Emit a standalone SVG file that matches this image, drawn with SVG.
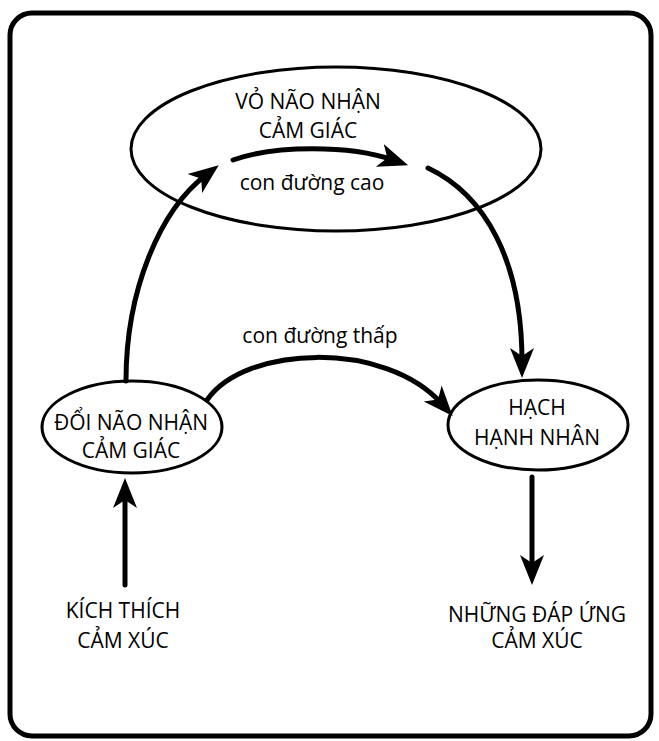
<svg xmlns="http://www.w3.org/2000/svg" width="659" height="741" viewBox="0 0 659 741">
<style>
.node ellipse{fill:none;stroke:#000;stroke-width:3}
text{font-family:"Open Sans","Noto Sans","DejaVu Sans",sans-serif;font-size:21px;fill:#000;text-anchor:middle}
.conn path{fill:none;stroke:#000;stroke-width:5;stroke-linecap:round;marker-end:url(#head)}
</style>
<defs>
<marker id="head" markerUnits="userSpaceOnUse" markerWidth="32" markerHeight="28" viewBox="0 -14 32 28" refX="14" refY="0" orient="auto">
<path d="M0,-12 L30,0 L0,12 L8,0 Z" fill="#000"/>
</marker>
</defs>
<rect x="10" y="13" width="641" height="723" rx="22" ry="22" fill="#fff" stroke="#000" stroke-width="5"/>
<g id="vo-nao" class="node">
<ellipse cx="336" cy="149" rx="205" ry="82"/>
<text x="308" y="109">VỎ NÃO NHẬN</text>
<text x="308" y="138">CẢM GIÁC</text>
</g>
<g id="doi-nao" class="node">
<ellipse cx="132" cy="427" rx="90" ry="46"/>
<text x="131" y="430">ĐỔI NÃO NHẬN</text>
<text x="131" y="458">CẢM GIÁC</text>
</g>
<g id="hach-hanh-nhan" class="node">
<ellipse cx="538" cy="425" rx="90" ry="45"/>
<text x="537" y="415">HẠCH</text>
<text x="537" y="445">HẠNH NHÂN</text>
</g>
<g id="kich-thich">
<text x="123" y="618">KÍCH THÍCH</text>
<text x="123" y="648">CẢM XÚC</text>
</g>
<g id="dap-ung">
<text x="537" y="622">NHỮNG ĐÁP ỨNG</text>
<text x="537" y="648">CẢM XÚC</text>
</g>
<g id="connectors" class="conn">
<path d="M125,585 L125,494"/>
<path d="M126,381 C126,290 160,210 206,175"/>
<path d="M233,160 C275,145 350,145 393,160"/>
<path d="M428,168 C485,195 522,260 522,362"/>
<path d="M207,400 C245,345 385,340 442,404"/>
<path d="M532,477 L532,569"/>
</g>
<g id="labels">
<text x="312" y="190">con đường cao</text>
<text x="320" y="343">con đường thấp</text>
</g>
</svg>
